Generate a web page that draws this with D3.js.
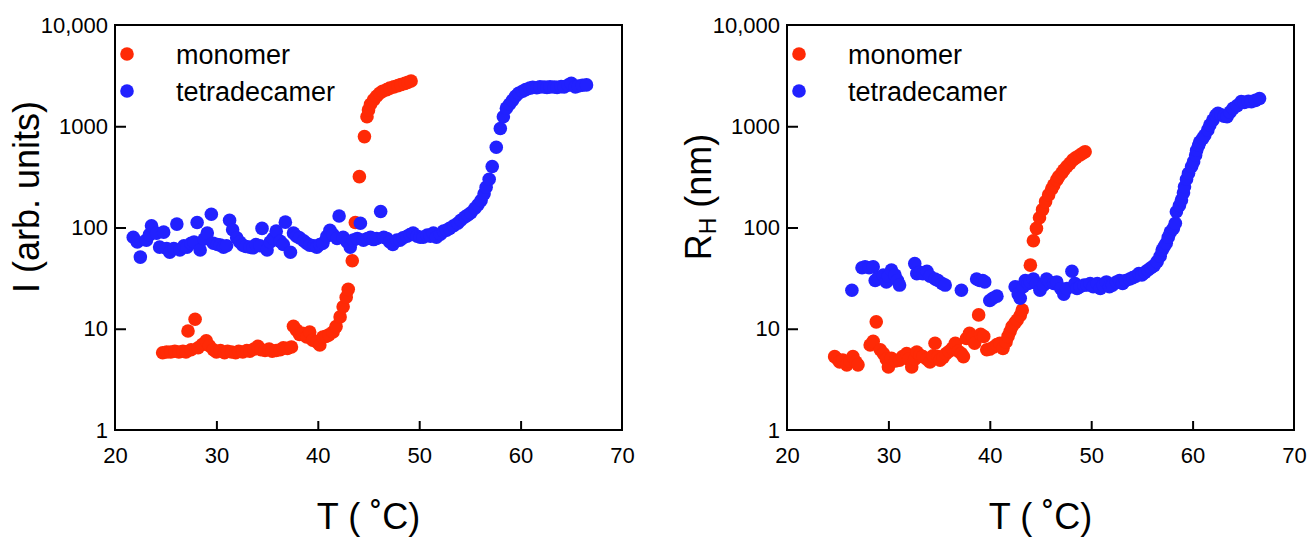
<!DOCTYPE html>
<html>
<head>
<meta charset="utf-8">
<script src="https://cdn.jsdelivr.net/npm/d3@7"></script>
<style>
  body { margin: 0; background: #ffffff; }
  svg { display: block; }
  text { font-family: "Liberation Sans", Arial, sans-serif; fill: #000; }
</style>
</head>
<body>
<svg id="fig" width="1309" height="538"></svg>
<script>
// ---- axis ticks ----
const tempTicks = [20, 30, 40, 50, 60, 70];
const tempInnerTicks = [30, 40, 50, 60];
const logTicks = [1, 10, 100, 1000, 10000];
const logTickLabels = ["1", "10", "100", "1000", "10,000"];
const logInnerTicks = [10, 100, 1000];

// ---- legend ----
const seriesNames = ["monomer", "tetradecamer"];
const seriesColors = ["#ff2a06", "#2121ff"];

// ---- scattered intensity I (arb. units) vs T (°C) ----
const intensityMonomer = [
  [24.7,5.8],[25.1,5.9],[25.5,5.9],[25.9,6.0],[26.3,5.9],[26.7,6.0],[27.0,5.9],[27.2,9.5],
  [27.5,6.2],[27.9,12.4],[28.2,6.5],[28.6,7.0],[29.0,7.6],[29.3,6.8],[29.7,6.2],[30.0,5.9],
  [30.4,6.1],[30.8,5.8],[31.1,6.0],[31.5,5.9],[31.9,5.8],[32.2,6.0],[32.6,5.9],[33.0,6.1],
  [33.3,6.0],[33.7,6.3],[34.1,6.7],[34.4,6.2],[34.8,6.1],[35.2,6.3],[35.5,6.0],[35.9,6.1],
  [36.3,6.2],[36.6,6.5],[37.0,6.4],[37.4,6.6],[37.6,10.6],[37.9,9.7],[38.2,8.8],[38.5,9.0],
  [38.9,8.3],[39.2,9.3],[39.5,7.7],[39.9,7.4],[40.2,6.9],[40.5,8.3],[40.8,8.4],[41.1,8.7],
  [41.5,9.3],[41.8,10.5],[42.2,13.1],[42.5,16.5],[42.8,20.5],[43.0,24.5],[43.4,47],[43.7,112],
  [44.1,318],[44.6,790],[44.85,1240],[45.0,1450],[45.2,1650],[45.5,1820],[45.8,1980],[46.1,2120],
  [46.4,2220],[46.8,2300],[47.1,2380],[47.5,2450],[47.9,2520],[48.2,2580],[48.6,2650],[48.9,2720],
  [49.2,2800]
];
const intensityTetradecamer = [
  [21.8,80],[22.2,72],[22.5,51],[23.1,75],[23.4,85],[23.6,104],[24.1,88],[24.4,64],
  [24.8,90],[25.1,62],[25.4,57],[25.8,62],[26.1,108],[26.4,60],[26.8,66],[27.1,64],
  [27.5,70],[27.8,72],[28.1,112],[28.4,60],[28.8,77],[29.1,88],[29.5,135],[29.7,70],
  [30.1,68],[30.4,67],[30.7,64],[31.0,66],[31.3,118],[31.6,95],[32.0,79],[32.3,72],
  [32.6,67],[32.9,65],[33.3,64],[33.6,63],[33.9,68],[34.3,66],[34.5,98],[35.0,60],
  [35.3,72],[35.6,78],[35.9,92],[36.3,73],[36.6,68],[36.8,113],[37.3,57],[37.6,88],
  [37.9,82],[38.2,79],[38.6,74],[38.9,70],[39.2,67],[39.6,66],[39.9,64],[40.2,68],
  [40.5,70],[40.9,82],[41.2,94],[41.5,85],[41.9,78],[42.1,130],[42.5,80],[42.9,72],
  [43.2,64],[43.5,75],[43.9,78],[44.2,110],[44.5,75],[44.9,78],[45.2,80],[45.5,76],
  [45.8,78],[46.2,144],[46.5,80],[46.8,78],[47.1,72],[47.4,68],[47.8,75],[48.1,75],
  [48.4,79],[48.8,82],[49.1,85],[49.4,88],[49.8,82],[50.1,80],[50.4,80],[50.8,84],
  [51.1,82],[51.4,88],[51.7,80],[52.1,86],[52.4,92],[52.7,94],[53.0,98],[53.4,104],
  [53.8,110],[54.1,118],[54.5,127],[54.8,133],[55.1,140],[55.5,155],[55.8,168],[56.1,185],
  [56.4,215],[56.6,250],[56.9,300],[57.2,400],[57.6,620],[58.0,950],[58.3,1240],[58.6,1510],
  [58.9,1650],[59.2,1800],[59.5,1980],[59.8,2120],[60.2,2220],[60.5,2300],[60.9,2380],[61.2,2420],
  [61.6,2400],[61.9,2450],[62.3,2440],[62.6,2420],[62.9,2450],[63.3,2440],[63.6,2420],[64.0,2460],
  [64.3,2450],[64.7,2550],[65.0,2650],[65.4,2450],[65.7,2500],[66.1,2540],[66.5,2560]
];

// ---- hydrodynamic radius R_H (nm) vs T (°C) ----
const radiusMonomer = [
  [24.7,5.3],[25.0,5.0],[25.2,4.7],[25.5,4.9],[25.9,4.4],[26.2,4.8],[26.5,5.3],[26.8,4.7],
  [27.0,4.4],[28.2,6.9],[28.5,7.5],[28.8,11.7],[29.2,6.2],[29.5,5.7],[29.8,5.0],[30.0,4.2],
  [30.3,5.1],[30.7,4.8],[31.1,4.9],[31.4,5.3],[31.8,5.7],[32.0,5.0],[32.3,4.2],[32.6,5.0],
  [32.8,5.9],[33.1,5.5],[33.4,5.3],[33.8,5.0],[34.1,4.7],[34.4,5.4],[34.6,7.2],[34.9,5.3],
  [35.1,4.9],[35.4,5.2],[35.7,5.7],[36.0,6.0],[36.3,6.4],[36.6,7.2],[36.9,6.0],[37.2,5.7],
  [37.4,5.3],[37.7,8.0],[38.0,9.0],[38.3,8.2],[38.5,7.2],[38.9,13.7],[39.1,8.8],[39.4,8.4],
  [39.7,6.2],[40.0,6.3],[40.4,6.6],[40.7,7.0],[41.0,7.2],[41.3,6.4],[41.6,7.4],[41.8,8.4],
  [42.0,9.4],[42.2,10.5],[42.5,11.5],[42.7,12.2],[43.0,13.5],[43.2,15.3],[44.0,42.5],[44.3,74],
  [44.6,98],[44.9,125],[45.2,150],[45.5,180],[45.8,210],[46.1,240],[46.3,262],[46.6,295],
  [46.8,318],[47.1,345],[47.3,370],[47.6,400],[47.9,430],[48.2,465],[48.5,490],[48.9,520],
  [49.2,545],[49.4,560]
];
const radiusTetradecamer = [
  [26.4,24],[27.4,40],[27.7,41],[28.1,40],[28.5,41],[28.7,30],[29.0,32],[29.5,34],
  [29.8,29],[30.0,33],[30.3,38],[30.65,34],[30.9,30],[31.1,27],[32.6,44],[32.8,35],
  [33.1,36],[33.4,35],[33.8,37],[34.1,33],[34.6,31],[34.9,30],[35.3,28],[35.6,27],
  [37.2,24],[38.7,31],[39.0,30],[39.3,30],[39.5,29],[40.0,19],[40.3,20],[40.7,21],
  [42.5,26],[42.8,22],[43.0,20],[43.3,26],[43.5,30],[43.8,28],[44.0,29],[44.3,31],
  [44.6,28],[44.95,24],[45.3,27],[45.6,31],[45.9,29],[46.3,28],[46.6,29],[47.0,25],
  [47.3,22],[47.6,25],[48.1,37],[48.4,28],[48.6,25],[48.9,26],[49.3,27],[49.6,27],
  [49.9,28],[50.2,26],[50.6,28],[50.9,25],[51.2,27],[51.5,29],[51.8,26],[52.1,27],
  [52.5,29],[52.8,30],[53.1,28],[53.4,30],[53.8,31],[54.1,32],[54.4,33],[54.7,35],
  [55.0,34],[55.3,36],[55.6,38],[55.9,40],[56.2,42],[56.5,46],[56.8,52],[57.0,60],
  [57.2,65],[57.4,70],[57.6,80],[57.8,90],[58.1,98],[58.3,110],[58.4,143],[58.7,165],
  [58.9,187],[59.1,220],[59.2,253],[59.4,300],[59.6,343],[59.9,400],[60.1,447],[60.3,520],
  [60.4,580],[60.6,650],[60.7,700],[61.0,760],[61.2,815],[61.5,920],[61.7,1030],[62.0,1150],
  [62.3,1280],[62.5,1340],[62.8,1300],[63.1,1260],[63.4,1240],[63.7,1380],[64.0,1500],[64.4,1600],
  [64.8,1750],[65.1,1720],[65.5,1760],[65.8,1750],[66.2,1800],[66.6,1880]
];

const svg = d3.select("#fig");

function drawPanel(opts) {
  const { left, right, top, bottom } = opts;
  const x = d3.scaleLinear().domain([20, 70]).range([left, right]);
  const y = d3.scaleLog().domain([1, 10000]).range([bottom, top]);
  const g = svg.append("g");

  // tick labels on the x axis
  g.append("g")
    .attr("transform", `translate(0,${bottom})`)
    .call(d3.axisBottom(x).tickValues(tempTicks).tickSize(0).tickPadding(17).tickFormat(d3.format("d")))
    .call(a => a.select(".domain").remove())
    .call(a => a.selectAll("text").attr("font-size", 22).attr("font-family", "Liberation Sans, Arial, sans-serif"));
  // inward x ticks
  g.append("g")
    .attr("transform", `translate(0,${bottom})`)
    .call(d3.axisBottom(x).tickValues(tempInnerTicks).tickSize(-9).tickFormat(""))
    .call(a => a.select(".domain").remove())
    .call(a => a.selectAll("line").attr("stroke", "#000").attr("stroke-width", 2));

  // tick labels on the y axis
  g.append("g")
    .attr("transform", `translate(${left},0)`)
    .call(d3.axisLeft(y).tickValues(logTicks).tickSize(0).tickPadding(7)
      .tickFormat((d, i) => logTickLabels[i]))
    .call(a => a.select(".domain").remove())
    .call(a => a.selectAll("text").attr("font-size", 22).attr("font-family", "Liberation Sans, Arial, sans-serif"));
  // inward y ticks
  g.append("g")
    .attr("transform", `translate(${left},0)`)
    .call(d3.axisLeft(y).tickValues(logInnerTicks).tickSize(-11).tickFormat(""))
    .call(a => a.select(".domain").remove())
    .call(a => a.selectAll("line").attr("stroke", "#000").attr("stroke-width", 2));

  // data points: monomer first, tetradecamer on top
  opts.series.forEach((data, i) => {
    g.append("g").selectAll("circle").data(data).join("circle")
      .attr("cx", d => x(d[0]))
      .attr("cy", d => y(d[1]))
      .attr("r", 6.8)
      .attr("fill", seriesColors[i]);
  });

  // plot frame
  g.append("rect")
    .attr("x", left).attr("y", top)
    .attr("width", right - left).attr("height", bottom - top)
    .attr("fill", "none").attr("stroke", "#000").attr("stroke-width", 2);

  // legend
  seriesNames.forEach((name, i) => {
    const ly = top + 29 + i * 37;
    g.append("circle").attr("cx", left + 12).attr("cy", ly).attr("r", 6.8).attr("fill", seriesColors[i]);
    g.append("text").attr("x", left + 61).attr("y", ly + 10)
      .attr("font-size", 27).text(name);
  });

  // x axis title
  g.append("text")
    .attr("x", (left + right) / 2).attr("y", bottom + 99)
    .attr("text-anchor", "middle").attr("font-size", 36)
    .text("T ( \u02DAC)");

  // y axis title
  const yt = g.append("text")
    .attr("transform", `translate(${left - 76},${opts.titleY}) rotate(-90)`)
    .attr("text-anchor", "middle").attr("font-size", 36);
  opts.yTitle(yt);
}

drawPanel({
  left: 115, right: 622, top: 25, bottom: 430, titleY: 197,
  series: [intensityMonomer, intensityTetradecamer],
  yTitle: t => t.text("I (arb. units)")
});

drawPanel({
  left: 787, right: 1294, top: 25, bottom: 430, titleY: 197,
  series: [radiusMonomer, radiusTetradecamer],
  yTitle: t => {
    t.append("tspan").text("R");
    t.append("tspan").attr("font-size", 23).attr("dy", 5).text("H");
    t.append("tspan").attr("dy", -5).text(" (nm)");
  }
});
</script>
</body>
</html>
